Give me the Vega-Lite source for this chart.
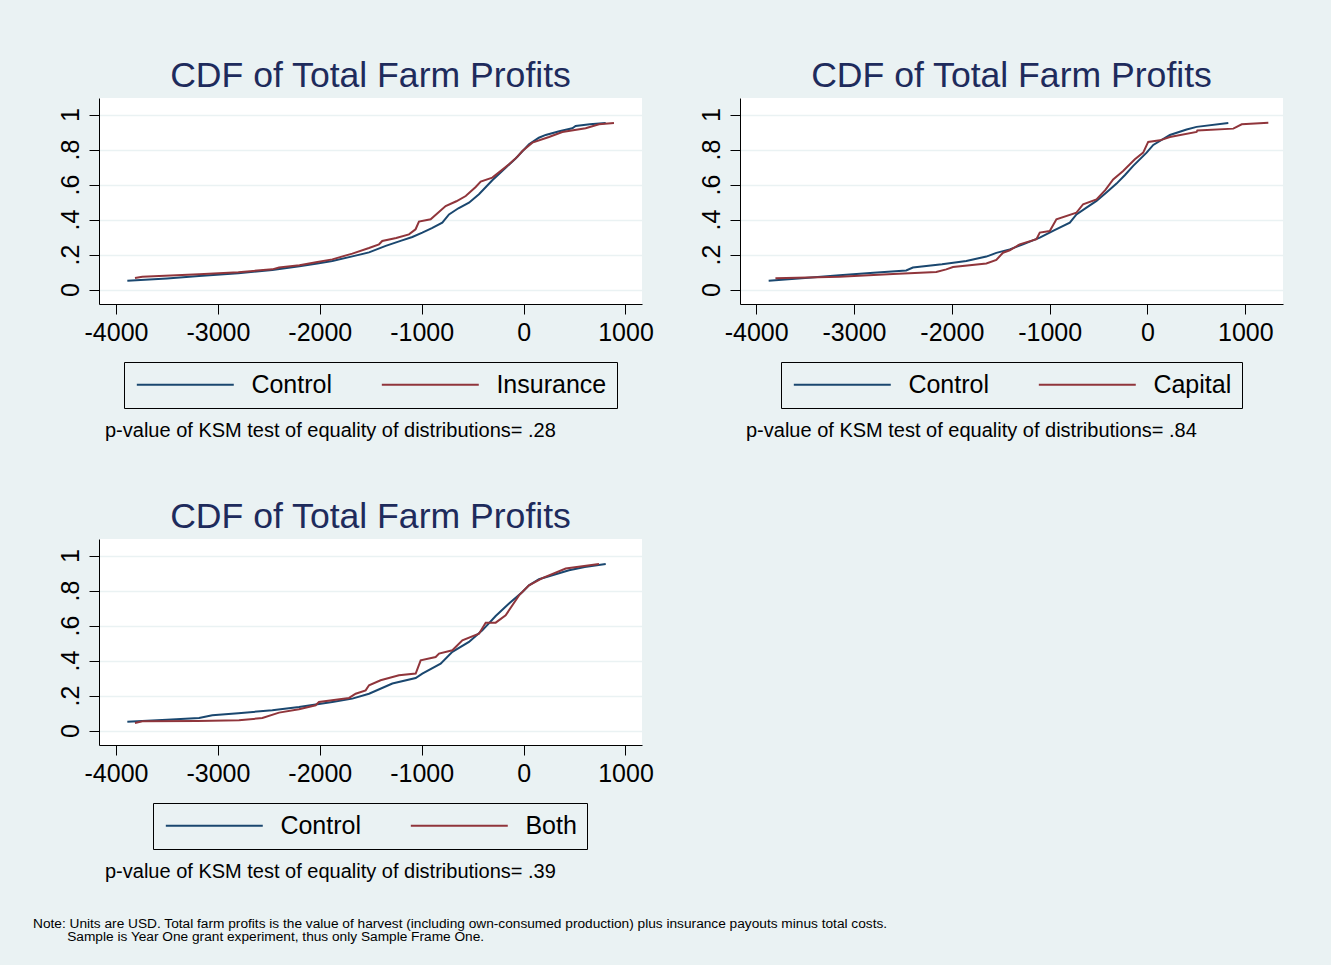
{
  "$schema": "https://vega.github.io/schema/vega-lite/v6.json",
  "background": "#EAF2F3",
  "padding": {"left": 33, "top": 59, "right": 48, "bottom": 21},
  "datasets": {
    "p1": [
      {"group": "Control", "x": -3889, "cdf": 0.051},
      {"group": "Control", "x": -3500, "cdf": 0.064},
      {"group": "Control", "x": -3185, "cdf": 0.078},
      {"group": "Control", "x": -2800, "cdf": 0.094},
      {"group": "Control", "x": -2466, "cdf": 0.112},
      {"group": "Control", "x": -2200, "cdf": 0.134},
      {"group": "Control", "x": -2024, "cdf": 0.150},
      {"group": "Control", "x": -1877, "cdf": 0.164},
      {"group": "Control", "x": -1681, "cdf": 0.190},
      {"group": "Control", "x": -1517, "cdf": 0.213},
      {"group": "Control", "x": -1353, "cdf": 0.250},
      {"group": "Control", "x": -1200, "cdf": 0.280},
      {"group": "Control", "x": -1092, "cdf": 0.301},
      {"group": "Control", "x": -994, "cdf": 0.326},
      {"group": "Control", "x": -900, "cdf": 0.352},
      {"group": "Control", "x": -798, "cdf": 0.383},
      {"group": "Control", "x": -732, "cdf": 0.430},
      {"group": "Control", "x": -640, "cdf": 0.465},
      {"group": "Control", "x": -536, "cdf": 0.497},
      {"group": "Control", "x": -438, "cdf": 0.545},
      {"group": "Control", "x": -307, "cdf": 0.625},
      {"group": "Control", "x": -176, "cdf": 0.697},
      {"group": "Control", "x": -78, "cdf": 0.749},
      {"group": "Control", "x": 53, "cdf": 0.830},
      {"group": "Control", "x": 150, "cdf": 0.868},
      {"group": "Control", "x": 217, "cdf": 0.884},
      {"group": "Control", "x": 350, "cdf": 0.905},
      {"group": "Control", "x": 478, "cdf": 0.922},
      {"group": "Control", "x": 511, "cdf": 0.935},
      {"group": "Control", "x": 650, "cdf": 0.945},
      {"group": "Control", "x": 806, "cdf": 0.952},
      {"group": "Insurance", "x": -3814, "cdf": 0.067},
      {"group": "Insurance", "x": -3742, "cdf": 0.074},
      {"group": "Insurance", "x": -3185, "cdf": 0.088},
      {"group": "Insurance", "x": -2800, "cdf": 0.100},
      {"group": "Insurance", "x": -2466, "cdf": 0.116},
      {"group": "Insurance", "x": -2400, "cdf": 0.126},
      {"group": "Insurance", "x": -2200, "cdf": 0.140},
      {"group": "Insurance", "x": -2024, "cdf": 0.158},
      {"group": "Insurance", "x": -1877, "cdf": 0.173},
      {"group": "Insurance", "x": -1681, "cdf": 0.206},
      {"group": "Insurance", "x": -1517, "cdf": 0.238},
      {"group": "Insurance", "x": -1419, "cdf": 0.259},
      {"group": "Insurance", "x": -1387, "cdf": 0.278},
      {"group": "Insurance", "x": -1250, "cdf": 0.295},
      {"group": "Insurance", "x": -1125, "cdf": 0.316},
      {"group": "Insurance", "x": -1060, "cdf": 0.345},
      {"group": "Insurance", "x": -1027, "cdf": 0.389},
      {"group": "Insurance", "x": -912, "cdf": 0.402},
      {"group": "Insurance", "x": -765, "cdf": 0.478},
      {"group": "Insurance", "x": -660, "cdf": 0.505},
      {"group": "Insurance", "x": -568, "cdf": 0.535},
      {"group": "Insurance", "x": -470, "cdf": 0.587},
      {"group": "Insurance", "x": -421, "cdf": 0.617},
      {"group": "Insurance", "x": -307, "cdf": 0.640},
      {"group": "Insurance", "x": -220, "cdf": 0.680},
      {"group": "Insurance", "x": -143, "cdf": 0.716},
      {"group": "Insurance", "x": -60, "cdf": 0.760},
      {"group": "Insurance", "x": -12, "cdf": 0.792},
      {"group": "Insurance", "x": 86, "cdf": 0.840},
      {"group": "Insurance", "x": 249, "cdf": 0.872},
      {"group": "Insurance", "x": 380, "cdf": 0.901},
      {"group": "Insurance", "x": 609, "cdf": 0.922},
      {"group": "Insurance", "x": 740, "cdf": 0.945},
      {"group": "Insurance", "x": 887, "cdf": 0.952}
    ],
    "p2": [
      {"group": "Control", "x": -3872, "cdf": 0.051},
      {"group": "Control", "x": -3500, "cdf": 0.066},
      {"group": "Control", "x": -3148, "cdf": 0.082},
      {"group": "Control", "x": -2800, "cdf": 0.096},
      {"group": "Control", "x": -2466, "cdf": 0.110},
      {"group": "Control", "x": -2398, "cdf": 0.126},
      {"group": "Control", "x": -2100, "cdf": 0.145},
      {"group": "Control", "x": -1852, "cdf": 0.164},
      {"group": "Control", "x": -1647, "cdf": 0.189},
      {"group": "Control", "x": -1545, "cdf": 0.210},
      {"group": "Control", "x": -1408, "cdf": 0.230},
      {"group": "Control", "x": -1272, "cdf": 0.259},
      {"group": "Control", "x": -1101, "cdf": 0.297},
      {"group": "Control", "x": -950, "cdf": 0.340},
      {"group": "Control", "x": -794, "cdf": 0.383},
      {"group": "Control", "x": -726, "cdf": 0.430},
      {"group": "Control", "x": -620, "cdf": 0.470},
      {"group": "Control", "x": -521, "cdf": 0.507},
      {"group": "Control", "x": -420, "cdf": 0.555},
      {"group": "Control", "x": -316, "cdf": 0.606},
      {"group": "Control", "x": -230, "cdf": 0.655},
      {"group": "Control", "x": -146, "cdf": 0.707},
      {"group": "Control", "x": -9, "cdf": 0.783},
      {"group": "Control", "x": 59, "cdf": 0.827},
      {"group": "Control", "x": 229, "cdf": 0.884},
      {"group": "Control", "x": 400, "cdf": 0.915},
      {"group": "Control", "x": 502, "cdf": 0.930},
      {"group": "Control", "x": 826, "cdf": 0.952},
      {"group": "Capital", "x": -3803, "cdf": 0.065},
      {"group": "Capital", "x": -3148, "cdf": 0.074},
      {"group": "Capital", "x": -2600, "cdf": 0.090},
      {"group": "Capital", "x": -2159, "cdf": 0.101},
      {"group": "Capital", "x": -2057, "cdf": 0.116},
      {"group": "Capital", "x": -1988, "cdf": 0.129},
      {"group": "Capital", "x": -1647, "cdf": 0.150},
      {"group": "Capital", "x": -1545, "cdf": 0.170},
      {"group": "Capital", "x": -1477, "cdf": 0.211},
      {"group": "Capital", "x": -1408, "cdf": 0.225},
      {"group": "Capital", "x": -1306, "cdf": 0.259},
      {"group": "Capital", "x": -1135, "cdf": 0.288},
      {"group": "Capital", "x": -1101, "cdf": 0.326},
      {"group": "Capital", "x": -999, "cdf": 0.335},
      {"group": "Capital", "x": -931, "cdf": 0.402},
      {"group": "Capital", "x": -726, "cdf": 0.440},
      {"group": "Capital", "x": -658, "cdf": 0.488},
      {"group": "Capital", "x": -521, "cdf": 0.516},
      {"group": "Capital", "x": -430, "cdf": 0.570},
      {"group": "Capital", "x": -351, "cdf": 0.630},
      {"group": "Capital", "x": -249, "cdf": 0.678},
      {"group": "Capital", "x": -129, "cdf": 0.745},
      {"group": "Capital", "x": -44, "cdf": 0.783},
      {"group": "Capital", "x": 7, "cdf": 0.844},
      {"group": "Capital", "x": 127, "cdf": 0.853},
      {"group": "Capital", "x": 229, "cdf": 0.872},
      {"group": "Capital", "x": 502, "cdf": 0.901},
      {"group": "Capital", "x": 510, "cdf": 0.910},
      {"group": "Capital", "x": 877, "cdf": 0.920},
      {"group": "Capital", "x": 963, "cdf": 0.945},
      {"group": "Capital", "x": 1235, "cdf": 0.954}
    ],
    "p3": [
      {"group": "Control", "x": -3889, "cdf": 0.051},
      {"group": "Control", "x": -3500, "cdf": 0.062},
      {"group": "Control", "x": -3185, "cdf": 0.072},
      {"group": "Control", "x": -3055, "cdf": 0.088},
      {"group": "Control", "x": -2800, "cdf": 0.100},
      {"group": "Control", "x": -2466, "cdf": 0.116},
      {"group": "Control", "x": -2204, "cdf": 0.135},
      {"group": "Control", "x": -1877, "cdf": 0.164},
      {"group": "Control", "x": -1681, "cdf": 0.183},
      {"group": "Control", "x": -1517, "cdf": 0.211},
      {"group": "Control", "x": -1288, "cdf": 0.269},
      {"group": "Control", "x": -1059, "cdf": 0.301},
      {"group": "Control", "x": -994, "cdf": 0.326},
      {"group": "Control", "x": -814, "cdf": 0.383},
      {"group": "Control", "x": -699, "cdf": 0.450},
      {"group": "Control", "x": -536, "cdf": 0.507},
      {"group": "Control", "x": -405, "cdf": 0.573},
      {"group": "Control", "x": -274, "cdf": 0.655},
      {"group": "Control", "x": -143, "cdf": 0.726},
      {"group": "Control", "x": -12, "cdf": 0.792},
      {"group": "Control", "x": 53, "cdf": 0.830},
      {"group": "Control", "x": 151, "cdf": 0.865},
      {"group": "Control", "x": 446, "cdf": 0.916},
      {"group": "Control", "x": 600, "cdf": 0.935},
      {"group": "Control", "x": 806, "cdf": 0.952},
      {"group": "Both", "x": -3814, "cdf": 0.044},
      {"group": "Both", "x": -3742, "cdf": 0.053},
      {"group": "Both", "x": -3200, "cdf": 0.055},
      {"group": "Both", "x": -2793, "cdf": 0.059},
      {"group": "Both", "x": -2564, "cdf": 0.072},
      {"group": "Both", "x": -2400, "cdf": 0.103},
      {"group": "Both", "x": -2204, "cdf": 0.122},
      {"group": "Both", "x": -2041, "cdf": 0.145},
      {"group": "Both", "x": -2008, "cdf": 0.164},
      {"group": "Both", "x": -1713, "cdf": 0.187},
      {"group": "Both", "x": -1648, "cdf": 0.211},
      {"group": "Both", "x": -1550, "cdf": 0.230},
      {"group": "Both", "x": -1517, "cdf": 0.259},
      {"group": "Both", "x": -1403, "cdf": 0.288},
      {"group": "Both", "x": -1223, "cdf": 0.316},
      {"group": "Both", "x": -1059, "cdf": 0.326},
      {"group": "Both", "x": -1010, "cdf": 0.402},
      {"group": "Both", "x": -863, "cdf": 0.421},
      {"group": "Both", "x": -830, "cdf": 0.440},
      {"group": "Both", "x": -699, "cdf": 0.459},
      {"group": "Both", "x": -601, "cdf": 0.516},
      {"group": "Both", "x": -438, "cdf": 0.554},
      {"group": "Both", "x": -372, "cdf": 0.617},
      {"group": "Both", "x": -274, "cdf": 0.617},
      {"group": "Both", "x": -176, "cdf": 0.659},
      {"group": "Both", "x": -45, "cdf": 0.773},
      {"group": "Both", "x": 53, "cdf": 0.830},
      {"group": "Both", "x": 184, "cdf": 0.872},
      {"group": "Both", "x": 413, "cdf": 0.926},
      {"group": "Both", "x": 740, "cdf": 0.952}
    ]
  },
  "title": {
    "text": ["Note: Units are USD. Total farm profits is the value of harvest (including own-consumed production) plus insurance payouts minus total costs.", "\u200b\u00a0\u00a0\u00a0\u00a0\u00a0\u00a0\u00a0\u00a0\u00a0Sample is Year One grant experiment, thus only Sample Frame One."],
    "orient": "bottom", "anchor": "start", "dx": -25, "offset": 35,
    "fontSize": 13.7, "lineHeight": 13.5, "fontWeight": "normal", "font": "Liberation Sans", "color": "black"
  },
  "spacing": 59,
  "resolve": {"scale": {"color": "independent", "x": "independent", "y": "independent"}, "legend": {"color": "independent"}},
  "vconcat": [
    {
      "spacing": 45,
      "resolve": {"scale": {"color": "independent", "x": "independent", "y": "independent"}, "legend": {"color": "independent"}},
      "hconcat": [
        {
          "title": {"text": "p-value of KSM test of equality of distributions= .28", "orient": "bottom", "anchor": "start", "dx": 47, "offset": 12, "fontSize": 20, "fontWeight": "normal", "font": "Liberation Sans", "color": "black"},
          "vconcat": [
            {
              "title": {"text": "CDF of Total Farm Profits"},
              "width": 543, "height": 206,
              "data": {"name": "p1"},
              "mark": {"type": "line", "strokeWidth": 2},
              "encoding": {
                "x": {"field": "x", "type": "quantitative", "scale": {"domain": [-4167, 1162], "nice": false, "zero": false}, "axis": {"values": [-4000, -3000, -2000, -1000, 0, 1000], "grid": false, "labelExpr": "toString(datum.value)"}},
                "y": {"field": "cdf", "type": "quantitative", "scale": {"domain": [-0.082, 1.095], "nice": false}, "axis": {"values": [0, 0.2, 0.4, 0.6, 0.8, 1], "labelExpr": "datum.value == 0 ? '0' : datum.value == 1 ? '1' : replace(format(datum.value, '.1f'), '0.', '.')"}},
                "color": {"field": "group", "type": "nominal", "scale": {"domain": ["Control", "Insurance"], "range": ["#1A476F", "#90353B"]}, "legend": {"orient": "none", "legendX": 25, "legendY": 264}}
              }
            }
          ]
        },
        {
          "title": {"text": "p-value of KSM test of equality of distributions= .84", "orient": "bottom", "anchor": "start", "dx": 47, "offset": 12, "fontSize": 20, "fontWeight": "normal", "font": "Liberation Sans", "color": "black"},
          "vconcat": [
            {
              "title": {"text": "CDF of Total Farm Profits"},
              "width": 543, "height": 206,
              "data": {"name": "p2"},
              "mark": {"type": "line", "strokeWidth": 2},
              "encoding": {
                "x": {"field": "x", "type": "quantitative", "scale": {"domain": [-4165, 1385], "nice": false, "zero": false}, "axis": {"values": [-4000, -3000, -2000, -1000, 0, 1000], "grid": false, "labelExpr": "toString(datum.value)"}},
                "y": {"field": "cdf", "type": "quantitative", "scale": {"domain": [-0.082, 1.095], "nice": false}, "axis": {"values": [0, 0.2, 0.4, 0.6, 0.8, 1], "labelExpr": "datum.value == 0 ? '0' : datum.value == 1 ? '1' : replace(format(datum.value, '.1f'), '0.', '.')"}},
                "color": {"field": "group", "type": "nominal", "scale": {"domain": ["Control", "Capital"], "range": ["#1A476F", "#90353B"]}, "legend": {"orient": "none", "legendX": 41, "legendY": 264}}
              }
            }
          ]
        }
      ]
    },
    {
      "title": {"text": "p-value of KSM test of equality of distributions= .39", "orient": "bottom", "anchor": "start", "dx": 47, "offset": 12, "fontSize": 20, "fontWeight": "normal", "font": "Liberation Sans", "color": "black"},
      "vconcat": [
        {
          "title": {"text": "CDF of Total Farm Profits"},
          "width": 543, "height": 206,
          "data": {"name": "p3"},
          "mark": {"type": "line", "strokeWidth": 2},
          "encoding": {
            "x": {"field": "x", "type": "quantitative", "scale": {"domain": [-4167, 1162], "nice": false, "zero": false}, "axis": {"values": [-4000, -3000, -2000, -1000, 0, 1000], "grid": false, "labelExpr": "toString(datum.value)"}},
            "y": {"field": "cdf", "type": "quantitative", "scale": {"domain": [-0.082, 1.095], "nice": false}, "axis": {"values": [0, 0.2, 0.4, 0.6, 0.8, 1], "labelExpr": "datum.value == 0 ? '0' : datum.value == 1 ? '1' : replace(format(datum.value, '.1f'), '0.', '.')"}},
            "color": {"field": "group", "type": "nominal", "scale": {"domain": ["Control", "Both"], "range": ["#1A476F", "#90353B"]}, "legend": {"orient": "none", "legendX": 54, "legendY": 264}}
          }
        }
      ]
    }
  ],
  "config": {
    "font": "Liberation Sans",
    "view": {"stroke": null, "fill": "white"},
    "title": {"fontSize": 35.6, "fontWeight": "normal", "color": "#1E2B5C", "font": "Liberation Sans", "offset": 3},
    "axis": {"title": null, "domainColor": "black", "domainWidth": 1, "tickColor": "black", "tickWidth": 1, "tickSize": 10, "labelColor": "black", "labelFont": "Liberation Sans", "labelFontSize": 25, "labelPadding": 6, "labelFlush": false, "labelOverlap": false, "gridColor": "#EAF2F3", "gridWidth": 1.5},
    "axisY": {"grid": true, "labelAngle": -90, "labelAlign": "center", "labelBaseline": "bottom", "labelPadding": 6},
    "axisX": {"grid": false},
    "legend": {"direction": "horizontal", "title": null, "symbolType": "M-5,0H5", "symbolSize": 376, "symbolOffset": 38.8, "symbolStrokeWidth": 2, "labelFontSize": 25, "labelFont": "Liberation Sans", "labelColor": "black", "labelOffset": 53.6, "columnPadding": 45, "padding": 10, "strokeColor": "black", "labelLimit": 400}
  }
}
